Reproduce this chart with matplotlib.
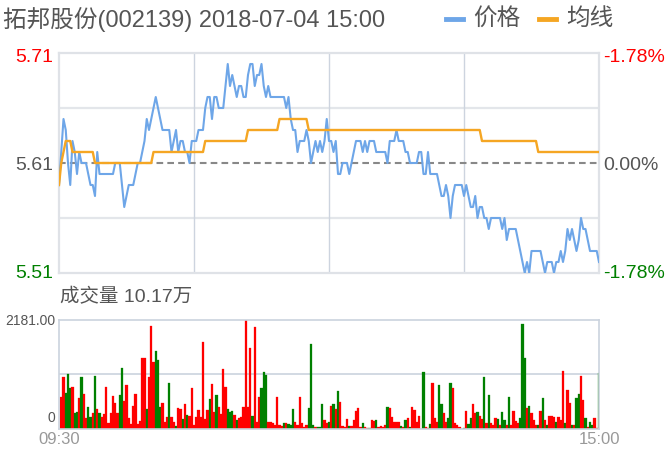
import matplotlib
matplotlib.use("Agg")
import matplotlib.pyplot as plt

plt.rcParams['font.family'] = ['Liberation Sans', 'Noto Sans CJK SC', 'DejaVu Sans']

title = "拓邦股份(002139) 2018-07-04 15:00"
legend_labels = ["价格", "均线"]
vol_title = "成交量 10.17万"
price_top, price_mid, price_bot = 5.71, 5.61, 5.51
pct_labels = ["-1.78%", "0.00%", "-1.78%"]
vol_max = 2181.00
time_labels = ["09:30", "15:00"]

prices = [
    5.59, 5.62, 5.65, 5.64, 5.61, 5.59, 5.63, 5.62, 5.60, 5.62,
    5.61, 5.61, 5.61, 5.60, 5.59, 5.59, 5.58, 5.62, 5.60, 5.60,
    5.60, 5.60, 5.60, 5.60, 5.60, 5.61, 5.61, 5.61, 5.59, 5.57,
    5.58, 5.59, 5.59, 5.59, 5.60, 5.61, 5.61, 5.62, 5.63, 5.65,
    5.64, 5.65, 5.66, 5.67, 5.66, 5.65, 5.64, 5.64, 5.64, 5.64,
    5.62, 5.63, 5.64, 5.62, 5.63, 5.63, 5.62, 5.62, 5.61, 5.63,
    5.63, 5.63, 5.64, 5.64, 5.64, 5.66, 5.67, 5.67, 5.65, 5.67,
    5.67, 5.66, 5.66, 5.66, 5.68, 5.70, 5.68, 5.69, 5.68, 5.67,
    5.68, 5.68, 5.67, 5.67, 5.69, 5.70, 5.70, 5.68, 5.69, 5.69,
    5.70, 5.68, 5.67, 5.68, 5.67, 5.67, 5.67, 5.67, 5.67, 5.67,
    5.67, 5.66, 5.67, 5.65, 5.64, 5.64, 5.62, 5.63, 5.63, 5.63,
    5.64, 5.63, 5.61, 5.62, 5.63, 5.62, 5.63, 5.62, 5.63, 5.65,
    5.63, 5.63, 5.62, 5.63, 5.60, 5.60, 5.61, 5.61, 5.61, 5.60,
    5.61, 5.62, 5.63, 5.63, 5.63, 5.62, 5.63, 5.62, 5.63, 5.63,
    5.63, 5.62, 5.62, 5.62, 5.62, 5.62, 5.61, 5.63, 5.63, 5.63,
    5.64, 5.63, 5.63, 5.63, 5.62, 5.62, 5.61, 5.61, 5.61, 5.61,
    5.62, 5.62, 5.60, 5.60, 5.62, 5.60, 5.60, 5.60, 5.60, 5.59,
    5.58, 5.58, 5.59, 5.58, 5.56, 5.58, 5.59, 5.59, 5.59, 5.59,
    5.58, 5.59, 5.58, 5.57, 5.57, 5.58, 5.56, 5.57, 5.57, 5.56,
    5.56, 5.55, 5.56, 5.56, 5.56, 5.56, 5.56, 5.55, 5.56, 5.54,
    5.55, 5.55, 5.55, 5.55, 5.54, 5.53, 5.52, 5.51, 5.52, 5.51,
    5.53, 5.53, 5.53, 5.53, 5.53, 5.52, 5.51, 5.52, 5.52, 5.52,
    5.51, 5.52, 5.52, 5.53, 5.52, 5.53, 5.55, 5.54, 5.55, 5.54,
    5.53, 5.54, 5.56, 5.55, 5.55, 5.54, 5.53, 5.53, 5.53, 5.53,
    5.52,
]

avg_prices = [
    5.59, 5.61, 5.62, 5.63, 5.63, 5.63, 5.62, 5.62, 5.62, 5.62,
    5.62, 5.62, 5.62, 5.62, 5.62, 5.62, 5.61, 5.61, 5.61, 5.61,
    5.61, 5.61, 5.61, 5.61, 5.61, 5.61, 5.61, 5.61, 5.61, 5.61,
    5.61, 5.61, 5.61, 5.61, 5.61, 5.61, 5.61, 5.61, 5.61, 5.61,
    5.61, 5.61, 5.62, 5.62, 5.62, 5.62, 5.62, 5.62, 5.62, 5.62,
    5.62, 5.62, 5.62, 5.62, 5.62, 5.62, 5.62, 5.62, 5.62, 5.62,
    5.62, 5.62, 5.62, 5.62, 5.62, 5.63, 5.63, 5.63, 5.63, 5.63,
    5.63, 5.63, 5.63, 5.63, 5.63, 5.63, 5.63, 5.63, 5.63, 5.63,
    5.63, 5.63, 5.63, 5.63, 5.64, 5.64, 5.64, 5.64, 5.64, 5.64,
    5.64, 5.64, 5.64, 5.64, 5.64, 5.64, 5.64, 5.64, 5.65, 5.65,
    5.65, 5.65, 5.65, 5.65, 5.65, 5.65, 5.65, 5.65, 5.65, 5.65,
    5.65, 5.64, 5.64, 5.64, 5.64, 5.64, 5.64, 5.64, 5.64, 5.64,
    5.64, 5.64, 5.64, 5.64, 5.64, 5.64, 5.64, 5.64, 5.64, 5.64,
    5.64, 5.64, 5.64, 5.64, 5.64, 5.64, 5.64, 5.64, 5.64, 5.64,
    5.64, 5.64, 5.64, 5.64, 5.64, 5.64, 5.64, 5.64, 5.64, 5.64,
    5.64, 5.64, 5.64, 5.64, 5.64, 5.64, 5.64, 5.64, 5.64, 5.64,
    5.64, 5.64, 5.64, 5.64, 5.64, 5.64, 5.64, 5.64, 5.64, 5.64,
    5.64, 5.64, 5.64, 5.64, 5.64, 5.64, 5.64, 5.64, 5.64, 5.64,
    5.64, 5.64, 5.64, 5.64, 5.64, 5.64, 5.64, 5.64, 5.63, 5.63,
    5.63, 5.63, 5.63, 5.63, 5.63, 5.63, 5.63, 5.63, 5.63, 5.63,
    5.63, 5.63, 5.63, 5.63, 5.63, 5.63, 5.63, 5.63, 5.63, 5.63,
    5.63, 5.63, 5.63, 5.62, 5.62, 5.62, 5.62, 5.62, 5.62, 5.62,
    5.62, 5.62, 5.62, 5.62, 5.62, 5.62, 5.62, 5.62, 5.62, 5.62,
    5.62, 5.62, 5.62, 5.62, 5.62, 5.62, 5.62, 5.62, 5.62, 5.62,
    5.62,
]

# volume per minute (minutes 1..240)
volumes = [
    630, 1028, 723, 1094, 822, 842, 325, 345, 610, 1028,
    696, 212, 444, 232, 312, 1054, 391, 312, 232, 298,
    829, 126, 325, 656, 524, 312, 676, 1207, 564, 875,
    212, 99, 464, 696, 99, 166, 1406, 1419, 398, 1041,
    2055, 1339, 1558, 1372, 444, 524, 146, 232, 922, 232,
    133, 60, 411, 391, 192, 497, 278, 259, 809, 80,
    232, 378, 232, 1724, 192, 378, 590, 895, 345, 676,
    444, 298, 1187, 842, 391, 345, 365, 278, 179, 212,
    232, 431, 2181, 431, 1604, 259, 2035, 146, 643, 809,
    1140, 1074, 146, 133, 113, 80, 630, 80, 60, 126,
    113, 93, 80, 391, 146, 80, 630, 113, 33, 80,
    424, 1691, 80, 46, 46, 46,
    491, 179, 126, 146, 457, 491, 391, 756, 544, 60,
    33, 192, 60, 60, 179, 365, 424, 46, 126, 33,
    13, 13, 179, 166, 179, 46, 60, 46, 73, 444,
    411, 245, 146, 146, 146, 60, 46, 179, 212, 46,
    444, 378, 146, 259, 5, 1127, 46, 13, 99, 922,
    212, 146, 875, 491, 312, 146, 212, 922, 822, 113,
    80, 33, 5, 13, 358, 99, 212, 497, 312, 345,
    259, 192, 1028, 126, 676, 113, 80, 212, 192, 80,
    345, 179, 80, 630, 80, 365, 166, 113, 212, 2082,
    1419, 411, 457, 312, 179, 80, 80, 365, 610, 179,
    80, 259, 259, 245, 146, 232, 179, 1154, 113, 776,
    511, 80, 80, 610, 696, 1054, 577, 212, 33, 146,
    80, 212, 13, 1107,
]

# bar direction per minute: R = red bar, G = green bar
directions = list(
    "RRGGGRGGRG" "RRGGRGRGRR" "RRRRRRGGRR" "RRRRRRRRGR" "RRGGGRRRGR"
    "RGRRGRGRRR" "RRRRRRGRRG" "RRRRGGGRGR" "RRRRRGRRRG" "GGRRRRRRRG"
    "RGGGRRRRRR" "GGGRGG"
    "GRRGRGRGRR" "RRGRRRRRGR" "RGRRGRRRRG" "RRRRRGRGRG" "RRRRRGRRGR"
    "RRGGRRGGRR" "RRGGRGGRRG" "RRGRGRRRGR" "GGRGRRRRGG" "GRGRRRGRGR"
    "GRRRGRRRGR" "RGRGGRRGRG" "GRRG"
)

RED = "#ff0000"
GREEN = "#008000"
BLUE = "#6ea6e8"
ORANGE = "#f5a623"
TXT = "#555555"

W, H = 670, 451
fig = plt.figure(figsize=(W / 100, H / 100), dpi=100)
fig.patch.set_facecolor("white")


def fx(x):
    return x / W


def fy(y):
    return 1 - y / H


# ---------------- price axes ----------------
ax = fig.add_axes([fx(59), fy(273), fx(599) - fx(59), fy(53) - fy(273)])
ax.set_xlim(0, 240)
ax.set_ylim(price_bot, price_top)
for s in ax.spines.values():
    s.set_color("#dfe2e7")
    s.set_linewidth(1.6)
ax.set_xticks([])
ax.set_yticks([])
for yv in [(price_top + price_mid) / 2, (price_mid + price_bot) / 2]:
    ax.axhline(yv, color="#e3e6ea", lw=1.6, zorder=1)
for xv in [60, 120, 180]:
    ax.axvline(xv, color="#cdd4df", lw=1.0, zorder=1)
ax.axhline(price_mid, color="#888888", lw=1.5, dashes=(3.2, 2.0), zorder=2)
minutes = list(range(len(prices)))
ax.plot(minutes, prices, color=BLUE, lw=1.5, zorder=3)
ax.plot(minutes, avg_prices, color=ORANGE, lw=1.7, zorder=4)

# price labels
fig.text(fx(53), fy(57), f"{price_top:.2f}", color=RED, fontsize=14, ha="right", va="center")
fig.text(fx(53), fy(165), f"{price_mid:.2f}", color=TXT, fontsize=14, ha="right", va="center")
fig.text(fx(53), fy(273), f"{price_bot:.2f}", color=GREEN, fontsize=14, ha="right", va="center")
fig.text(fx(603), fy(57), pct_labels[0], color=RED, fontsize=14, ha="left", va="center")
fig.text(fx(603), fy(165), pct_labels[1], color=TXT, fontsize=14, ha="left", va="center")
fig.text(fx(603), fy(273), pct_labels[2], color=GREEN, fontsize=14, ha="left", va="center")

# title and legend
fig.text(fx(3), fy(19), title, color=TXT, fontsize=17, ha="left", va="center")
fig.add_artist(plt.Line2D([fx(446), fx(463)], [fy(19), fy(19)], color=BLUE, lw=3.5))
fig.text(fx(473), fy(19), legend_labels[0], color=TXT, fontsize=17, ha="left", va="center")
fig.add_artist(plt.Line2D([fx(539), fx(556)], [fy(19), fy(19)], color=ORANGE, lw=3.5))
fig.text(fx(566), fy(19), legend_labels[1], color=TXT, fontsize=17, ha="left", va="center")

# ---------------- volume axes ----------------
vx = fig.add_axes([fx(59), fy(429), fx(599) - fx(59), fy(319.5) - fy(429)])
vx.set_xlim(0, 240)
vx.set_ylim(0, vol_max)
for s in vx.spines.values():
    s.set_color("#cbd3de")
    s.set_linewidth(1.2)
vx.set_xticks([])
vx.set_yticks([])
vx.axhline(vol_max / 2, color="#cbd3de", lw=1.2, zorder=1)
bar_x = list(range(1, len(volumes) + 1))
bar_colors = [RED if d == "R" else GREEN for d in directions]
vx.bar(bar_x, volumes, width=1.0, color=bar_colors, edgecolor=bar_colors,
       linewidth=0.2, zorder=2)

fig.text(fx(60), fy(297), vol_title, color=TXT, fontsize=14, ha="left", va="center")
fig.text(fx(55), fy(321), f"{vol_max:.2f}", color=TXT, fontsize=10, ha="right", va="center")
fig.text(fx(55), fy(418), "0", color=TXT, fontsize=10, ha="right", va="center")
fig.text(fx(59), fy(440), time_labels[0], color="#999999", fontsize=12, ha="center", va="center")
fig.text(fx(599), fy(440), time_labels[1], color="#999999", fontsize=12, ha="center", va="center")

fig.savefig("out.png", dpi=100)
